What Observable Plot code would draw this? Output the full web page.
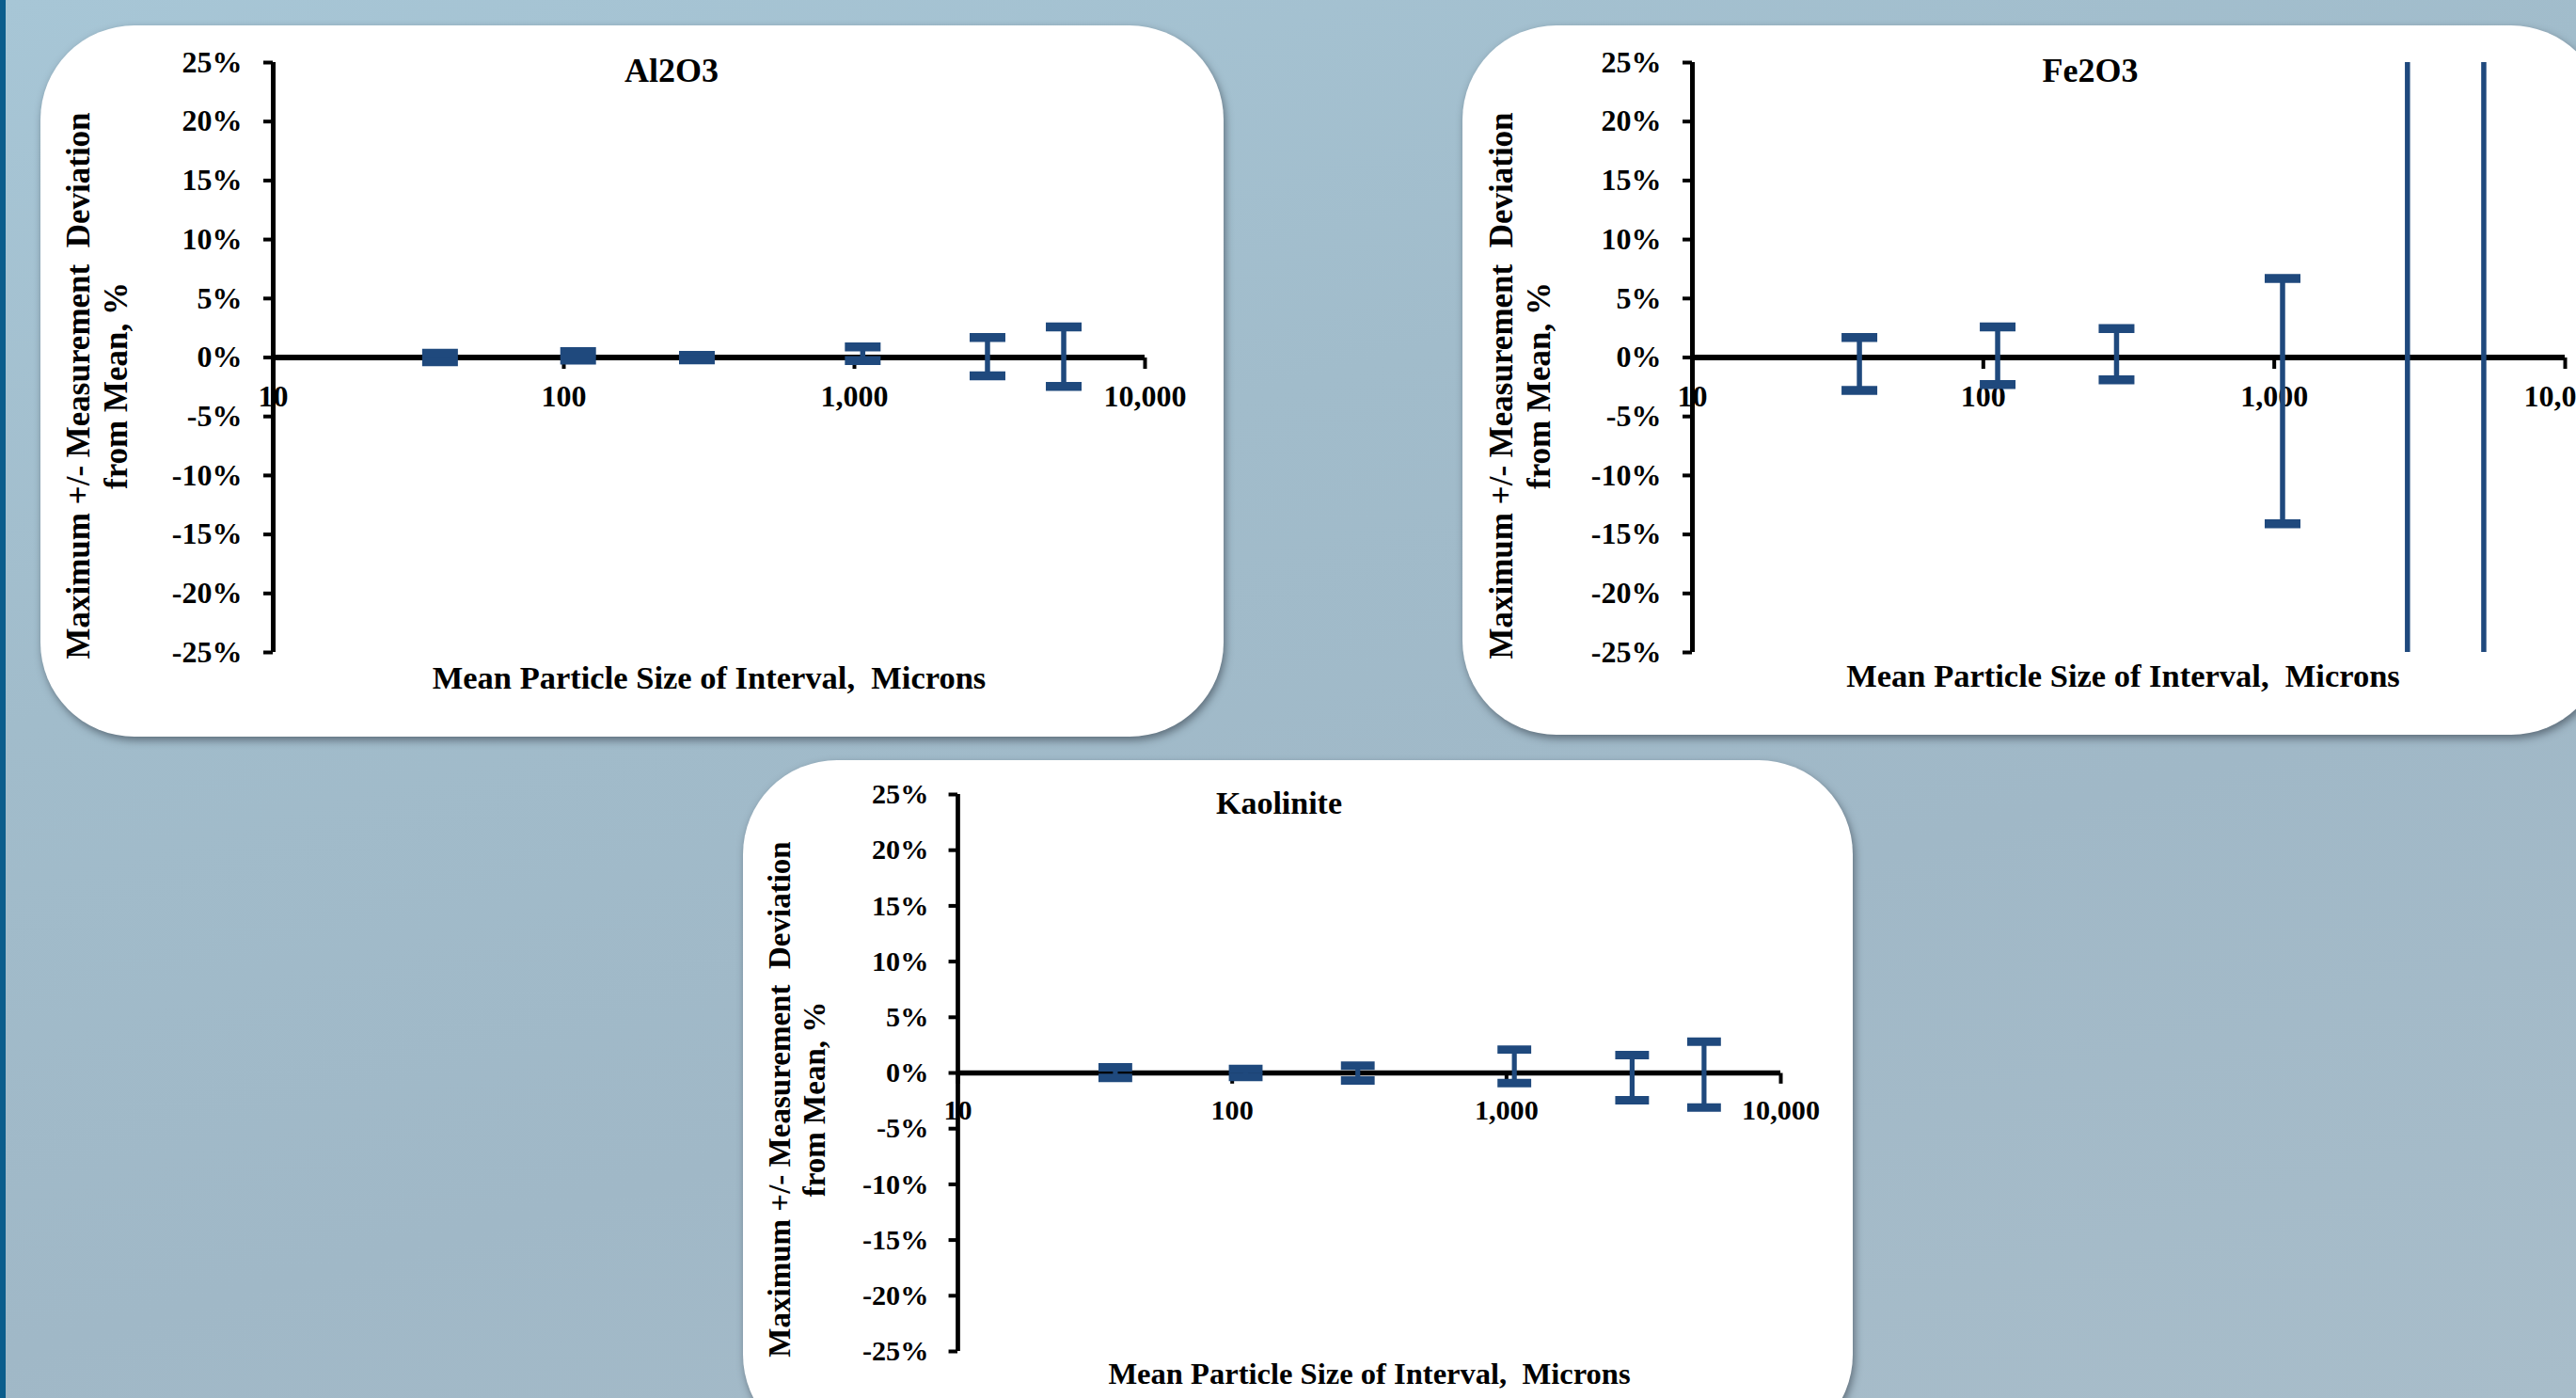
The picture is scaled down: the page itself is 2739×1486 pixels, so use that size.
<!DOCTYPE html>
<html>
<head>
<meta charset="utf-8">
<script src="https://cdn.jsdelivr.net/npm/d3@7"></script>
<script src="https://cdn.jsdelivr.net/npm/@observablehq/plot@0.6"></script>
<style>
  html, body { margin: 0; padding: 0; overflow: hidden; }
  body {
    width: 2739px; height: 1486px; position: relative;
    background: linear-gradient(165deg, #a7c6d6 0%, #a1bccb 35%, #a0b8c7 65%, #a8bdca 100%);
  }
  .strip { position: absolute; left: 0; top: 0; width: 6px; height: 1486px; background: #0b5d8c; }
  .card {
    position: absolute; background: #ffffff; border-radius: 100px;
    box-shadow: 2px 4px 9px rgba(40, 50, 60, 0.55);
  }
  .chart { position: absolute; }
</style>
</head>
<body>
<div class="strip"></div>
<div class="card" style="left:43px; top:27px; width:1258px; height:756px;"></div>
<div class="card" style="left:1555px; top:27px; width:1215px; height:754px;"></div>
<div class="card" style="left:790px; top:808px; width:1180px; height:732px;"></div>
<div class="chart" id="al2o3" style="left:43px; top:27px;"></div>
<div class="chart" id="fe2o3" style="left:1555px; top:27px;"></div>
<div class="chart" id="kaol" style="left:790px; top:808px;"></div>
<script>
// ---- data ----
const sizes = [37.5, 112, 287, 1068, 2870, 5250];          // mean particle size, microns
const al2o3Upper = [0.35, 0.5, 0.18, 0.9, 1.7, 2.6];        // % max positive deviation
const al2o3Lower = [-0.35, -0.22, -0.2, -0.25, -1.55, -2.45];
const fe2o3Upper = [1.7, 2.6, 2.45, 6.7, 30, 30];
const fe2o3Lower = [-2.8, -2.3, -1.9, -14.1, -30, -30];
const kaolUpper = [0.5, 0.36, 0.65, 2.1, 1.6, 2.8];
const kaolLower = [-0.45, -0.36, -0.68, -0.9, -2.45, -3.1];
const xTicks = [10, 100, 1000, 10000];
const yTicks = [-25, -20, -15, -10, -5, 0, 5, 10, 15, 20, 25];
const titles = ["Al2O3", "Fe2O3", "Kaolinite"];
const xTitle = "Mean Particle Size of Interval,  Microns";
const yTitle = "Maximum +/- Measurement  Deviation\nfrom Mean, %";

const blue = "#1F497D";
const fmtX = d3.format(",");

function rectSymbol(x0, y0, w, h) {
  return {
    draw(ctx) {
      ctx.moveTo(x0, y0); ctx.lineTo(x0 + w, y0); ctx.lineTo(x0 + w, y0 + h);
      ctx.lineTo(x0, y0 + h); ctx.closePath();
    }
  };
}

function panel(el, title, upper, lower, L) {
  const k = L.k;
  const rows = sizes.map((s, i) => ({size: s, hi: upper[i], lo: lower[i]}));
  const cap = rectSymbol(-19 * k, -4.75 * k, 38 * k, 9.5 * k);
  const xTick = rectSymbol(-2, 0, 4, 12 * k);
  const chart = Plot.plot({
    width: L.width, height: L.height,
    marginLeft: L.ml, marginRight: L.mr, marginTop: L.mt, marginBottom: L.mb,
    style: {
      fontFamily: "'Liberation Serif', 'Times New Roman', serif",
      fontWeight: "bold", background: "transparent", maxWidth: "none",
      overflow: "visible", color: "black"
    },
    x: {type: "log", domain: [10, 10000], axis: null},
    y: {domain: [-25, 25]},
    marks: [
      Plot.axisY(yTicks, {
        tickFormat: d => `${d}%`, tickSize: 10 * k, tickPadding: 23 * k,
        strokeWidth: 4, fontSize: 32 * k, fontWeight: "bold", label: null, fill: "black"
      }),
      Plot.ruleX([10], {stroke: "black", strokeWidth: 5 * k}),
      Plot.ruleY([0], {stroke: "black", strokeWidth: 6 * k}),
      Plot.dot(xTicks, {x: d => d, y: 0, symbol: xTick, fill: "black"}),
      Plot.text(xTicks, {x: d => d, y: 0, text: d => fmtX(d), dy: 42 * k, fontSize: 32 * k, fill: "black"}),
      Plot.ruleX(rows, {x: "size", y1: "lo", y2: "hi", stroke: blue, strokeWidth: 5.5 * k, clip: true}),
      Plot.dot(rows, {x: "size", y: "hi", symbol: cap, fill: blue, clip: true}),
      Plot.dot(rows, {x: "size", y: "lo", symbol: cap, fill: blue, clip: true}),
      Plot.text([title], {frameAnchor: "top", text: d => d, lineAnchor: "middle", textAnchor: "middle",
        dx: L.tdx, dy: L.tdy, fontSize: 36 * k, fill: "black"}),
      Plot.text([xTitle], {frameAnchor: "bottom", text: d => d, lineAnchor: "middle", textAnchor: "middle",
        dx: L.xdx, dy: L.xdy, fontSize: 34.5 * k, fill: "black"}),
      Plot.text([yTitle], {frameAnchor: "left", text: d => d, lineAnchor: "middle", textAnchor: "middle",
        rotate: -90, dx: L.ydx, dy: L.ydy, fontSize: 35 * k, lineHeight: 1.14, fill: "black"})
    ]
  });
  document.getElementById(el).appendChild(chart);
}

panel("al2o3", titles[0], al2o3Upper, al2o3Lower,
  {k: 1, width: 1258, height: 756, ml: 247, mr: 84, mt: 39, mb: 90,
   tdx: -40, tdy: 9, xdx: 0, xdy: 27, ydx: -188, ydy: 30});
panel("fe2o3", titles[1], fe2o3Upper, fe2o3Lower,
  {k: 1, width: 1215, height: 754, ml: 244, mr: 43, mt: 39, mb: 88,
   tdx: -41, tdy: 9, xdx: -6, xdy: 25, ydx: -184, ydy: 30});
panel("kaol", titles[2], kaolUpper, kaolLower,
  {k: 0.944, width: 1180, height: 678, ml: 228, mr: 77, mt: 36, mb: 50,
   tdx: -96, tdy: 10, xdx: 0, xdy: 24, ydx: -172, ydy: 28});
</script>
</body>
</html>
